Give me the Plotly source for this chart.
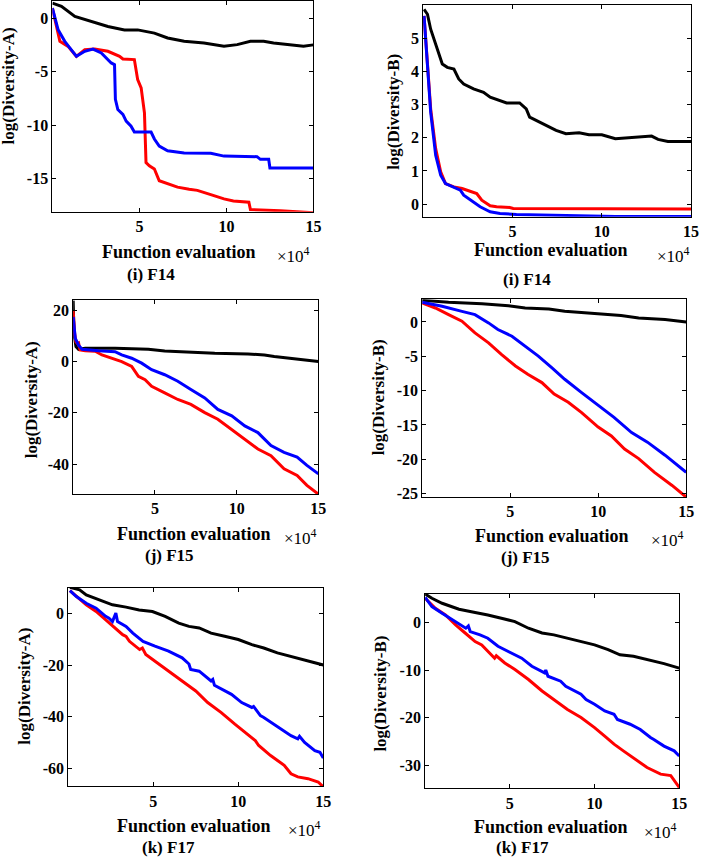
"""Diversity curves (log scale) for F14, F15 and F17, two measures each."""
import plotly.graph_objects as go

# ---- data (x in units of 1e4 function evaluations) ----
F14A_BLACK_X = [0, 0.52, 1.29, 2.24, 3.19, 4.14, 4.9, 5.86, 6.62, 7.57, 8.71, 9.86, 10.62, 11.38, 12.14, 12.71, 13.67, 14.43, 15]
F14A_BLACK_Y = [1.4, 1.1, 0.15, -0.3, -0.78, -1.1, -1.1, -1.4, -1.86, -2.17, -2.33, -2.64, -2.48, -2.17, -2.17, -2.33, -2.48, -2.64, -2.5]
F14A_RED_X = [0, 0.24, 0.43, 0.9, 1.38, 1.86, 2.43, 3.19, 3.86, 4.05, 4.71, 4.9, 5.1, 5.29, 5.38, 5.57, 5.86, 6.14, 6.62, 7.19, 7.86, 8.33, 9.1, 9.86, 10.4, 11.29, 11.38, 13.1, 15]
F14A_RED_Y = [0.93, -0.78, -2.17, -2.64, -3.57, -2.95, -2.89, -3.1, -3.57, -3.82, -3.88, -5.75, -6.52, -8.85, -13.5, -13.8, -14.1, -15.2, -15.5, -15.8, -16.0, -16.1, -16.5, -16.9, -17.1, -17.2, -17.9, -18.0, -18.2]
F14A_BLUE_X = [0, 0.33, 0.71, 1.38, 1.86, 2.33, 2.81, 3.38, 3.57, 3.62, 3.76, 4.05, 4.24, 4.52, 4.71, 5.67, 5.86, 6.14, 6.62, 7.57, 9.1, 9.86, 11.76, 11.95, 12.43, 12.5, 15]
F14A_BLUE_Y = [0.93, -1.09, -2.17, -3.57, -3.1, -2.89, -3.26, -4.19, -4.35, -7.6, -8.54, -9.0, -9.63, -10.1, -10.65, -10.65, -11.3, -11.96, -12.4, -12.6, -12.64, -12.9, -12.95, -13.2, -13.2, -14.0, -14.0]

F14B_BLACK_X = [0.05, 0.24, 0.42, 0.61, 0.89, 1.07, 1.35, 1.72, 1.99, 2.27, 2.82, 3.38, 3.75, 4.3, 4.67, 5.4, 5.77, 5.96, 6.33, 6.88, 7.44, 7.99, 8.73, 9.28, 10.0, 10.76, 11.86, 12.79, 13.15, 13.7, 15]
F14B_BLACK_Y = [5.87, 5.72, 5.27, 4.97, 4.57, 4.22, 4.12, 4.07, 3.77, 3.62, 3.47, 3.37, 3.22, 3.12, 3.05, 3.05, 2.87, 2.62, 2.52, 2.37, 2.22, 2.12, 2.15, 2.09, 2.09, 1.97, 2.02, 2.05, 1.95, 1.89, 1.89]
F14B_RED_X = [0.05, 0.24, 0.42, 0.7, 0.98, 1.25, 1.72, 2.18, 2.64, 3.0, 3.28, 3.75, 4.11, 4.85, 5.04, 15]
F14B_RED_Y = [5.67, 4.17, 2.87, 1.67, 0.97, 0.62, 0.52, 0.47, 0.39, 0.32, 0.12, -0.05, -0.08, -0.1, -0.13, -0.15]
F14B_BLUE_X = [0.05, 0.24, 0.42, 0.7, 0.98, 1.25, 1.72, 2.08, 2.27, 2.64, 3.19, 3.75, 4.3, 5.22, 7.07, 8.9, 10.76, 15]
F14B_BLUE_Y = [5.67, 4.17, 2.77, 1.47, 0.87, 0.62, 0.52, 0.42, 0.27, 0.12, -0.08, -0.23, -0.28, -0.31, -0.33, -0.35, -0.37, -0.37]

F15A_BLACK_X = [0, 0.05, 0.17, 0.33, 0.74, 2.57, 4.6, 5.6, 6.6, 7.6, 8.66, 10.7, 11.7, 12.3, 13.1, 13.7, 14.3, 15]
F15A_BLACK_Y = [23.8, 10.9, 5.8, 4.76, 5.15, 5.15, 4.76, 4.1, 3.86, 3.47, 3.2, 2.96, 2.57, 1.93, 1.29, 0.9, 0.39, 0.0]
F15A_RED_X = [0, 0.09, 0.17, 0.25, 0.33, 0.42, 0.74, 1.35, 1.76, 2.37, 2.97, 3.58, 3.99, 4.4, 4.8, 5.6, 6.4, 7.2, 8.05, 8.85, 9.7, 10.5, 11.3, 12.1, 12.9, 13.7, 14.3, 15]
F15A_RED_Y = [19.9, 10.9, 7.7, 7.1, 7.3, 4.5, 4.25, 4.0, 2.57, 1.29, 0.0, -1.93, -5.8, -7.1, -9.65, -12.2, -14.8, -16.7, -19.9, -22.5, -26.4, -30.2, -34.1, -36.7, -41.8, -44.4, -48.3, -51.7]
F15A_BLUE_X = [0, 0.13, 0.33, 0.54, 1.55, 2.56, 2.97, 3.58, 4.19, 4.8, 5.6, 6.4, 7.2, 8.05, 8.85, 9.7, 10.5, 11.3, 12.1, 12.9, 13.7, 14.3, 15]
F15A_BLUE_Y = [17.4, 9.0, 6.4, 4.8, 4.25, 3.86, 2.57, 1.29, -0.64, -3.2, -5.15, -7.7, -10.9, -14.2, -18.7, -21.2, -25.1, -27.7, -32.8, -35.4, -37.3, -40.5, -43.8]

F15B_BLACK_X = [0, 1.5, 3.4, 4.9, 5.85, 7.2, 8.1, 10.0, 11.3, 12.3, 13.8, 15]
F15B_BLACK_Y = [3.14, 2.85, 2.65, 2.36, 2.03, 1.88, 1.54, 1.2, 0.92, 0.58, 0.34, 0.0]
F15B_RED_X = [0, 0.75, 1.5, 2.26, 3.0, 3.77, 4.5, 5.3, 6.0, 6.8, 7.5, 8.3, 9.06, 10.0, 10.75, 11.5, 12.3, 13.2, 14.2, 15]
F15B_RED_Y = [2.75, 2.03, 1.06, 0.1, -1.6, -3.04, -4.73, -6.42, -7.63, -8.83, -10.5, -11.7, -13.2, -15.3, -16.6, -18.5, -19.9, -21.9, -23.8, -25.5]
F15B_BLUE_X = [0, 1.13, 2.26, 3.0, 3.77, 4.3, 5.1, 5.85, 6.6, 7.36, 8.1, 9.06, 10.0, 10.9, 11.9, 12.8, 13.8, 15]
F15B_BLUE_Y = [2.85, 2.27, 1.54, 1.06, -0.14, -1.1, -2.08, -3.52, -4.97, -6.66, -8.35, -10.3, -12.2, -13.9, -16.1, -17.5, -19.4, -21.9]

F17A_BLACK_X = [0.1, 0.67, 1.06, 1.84, 2.6, 3.4, 4.17, 4.95, 5.7, 6.5, 7.1, 7.7, 8.4, 9.2, 10.0, 10.8, 11.5, 12.3, 13.1, 13.9, 14.5, 15]
F17A_BLACK_Y = [10.3, 9.3, 7.3, 5.4, 3.5, 2.6, 1.5, 0.9, -1.0, -3.6, -4.9, -5.5, -7.5, -8.75, -10.0, -12.0, -13.3, -15.2, -16.5, -17.8, -19.0, -19.9]
F17A_RED_X = [0.1, 0.48, 1.06, 1.64, 2.2, 2.8, 3.2, 3.4, 3.6, 4.2, 4.36, 4.56, 5.1, 5.9, 6.7, 7.5, 8.2, 9.0, 9.8, 10.4, 10.5, 11.0, 11.2, 11.9, 12.7, 13.1, 13.5, 14.1, 14.7, 15]
F17A_RED_Y = [9.0, 6.7, 3.5, 0.9, -2.3, -5.5, -8.1, -8.75, -10.7, -13.9, -13.3, -15.8, -18.4, -22.3, -26.1, -30.0, -34.5, -38.4, -42.9, -46.1, -47.0, -49.3, -51.2, -55.1, -58.9, -62.2, -63.4, -64.1, -65.4, -67.3]
F17A_BLUE_X = [0.1, 0.48, 1.06, 1.64, 2.2, 2.4, 2.6, 2.8, 2.9, 3.4, 3.8, 4.4, 5.1, 5.9, 6.7, 7.05, 7.1, 7.2, 7.7, 8.4, 8.5, 8.6, 9.4, 9.6, 10.2, 10.8, 10.9, 11.3, 11.5, 12.1, 12.7, 13.1, 13.5, 13.6, 13.9, 14.5, 14.8, 15]
F17A_BLUE_Y = [9.0, 6.7, 4.1, 2.2, -1.0, -1.7, -3.0, 0.26, -3.0, -4.9, -7.5, -10.7, -12.6, -14.5, -17.1, -19.0, -19.5, -21.6, -22.3, -26.1, -25.5, -27.8, -30.6, -31.3, -34.5, -36.4, -36.0, -39.6, -40.3, -42.9, -45.4, -47.4, -48.6, -47.6, -50.0, -53.2, -53.8, -56.1]

F17B_BLACK_X = [0, 0.4, 1.0, 2.0, 2.95, 3.7, 4.5, 5.3, 6.1, 6.9, 7.6, 8.4, 9.2, 10.0, 10.8, 11.5, 12.3, 13.1, 14.1, 15]
F17B_BLACK_Y = [6.0, 5.1, 4.05, 2.8, 2.1, 1.6, 0.9, 0.2, -1.2, -2.2, -2.6, -3.3, -4.0, -4.7, -5.7, -6.8, -7.1, -7.8, -8.65, -9.6]
F17B_RED_X = [0, 0.6, 1.2, 1.8, 2.36, 2.95, 3.34, 3.73, 4.1, 4.2, 4.7, 5.3, 6.1, 6.9, 7.6, 8.4, 9.2, 10.0, 10.6, 11.15, 11.7, 12.5, 13.1, 13.9, 14.5, 15]
F17B_RED_Y = [5.1, 3.0, 1.6, -0.5, -2.2, -4.0, -4.7, -6.1, -7.5, -7.0, -8.5, -9.9, -12.0, -14.4, -16.2, -18.3, -20.0, -22.1, -23.9, -25.6, -27.0, -29.1, -30.5, -31.9, -32.2, -34.7]
F17B_BLUE_X = [0, 0.4, 1.0, 1.6, 2.2, 2.4, 2.55, 2.66, 3.24, 3.7, 4.3, 5.1, 5.7, 6.3, 7.05, 7.12, 7.25, 8.0, 8.3, 9.2, 9.5, 10.0, 10.6, 11.15, 11.35, 12.1, 12.7, 13.3, 13.5, 14.1, 14.7, 15]
F17B_BLUE_Y = [5.3, 3.35, 1.95, 0.56, -0.84, -1.2, -0.7, -1.9, -2.6, -3.3, -5.0, -6.4, -7.5, -9.2, -10.6, -10.0, -11.3, -12.35, -13.4, -15.1, -16.2, -17.2, -18.6, -19.3, -20.4, -21.4, -22.5, -24.2, -24.6, -26.0, -27.0, -28.1]

X_TICKS = [5, 10, 15]
X_TICK_TEXT = ["5", "10", "15"]
F14A_Y_TICKS = [-15, -10, -5, 0]
F14B_Y_TICKS = [0, 1, 2, 3, 4, 5]
F15A_Y_TICKS = [-40, -20, 0, 20]
F15B_Y_TICKS = [-25, -20, -15, -10, -5, 0]
F17A_Y_TICKS = [-60, -40, -20, 0]
F17B_Y_TICKS = [-30, -20, -10, 0]

W, H = 709, 861
FONT = "Liberation Serif"

# panel boxes in pixels: left, right, top, bottom
panels = [
    dict(box=(53, 317, 1, 213), yr=[-18.1, 1.6], yt=F14A_Y_TICKS, ylab="log(Diversity-A)", cap="(i) F14",
         series=[(F14A_BLACK_X, F14A_BLACK_Y, "black"), (F14A_RED_X, F14A_RED_Y, "red"), (F14A_BLUE_X, F14A_BLUE_Y, "blue")],
         ytitle=(9, 86), fe=(181, 253), x10=(297, 256), cp=(153, 276)),
    dict(box=(428, 699, 5, 218), yr=[-0.38, 6.0], yt=F14B_Y_TICKS, ylab="log(Diversity-B)", cap="(i) F14",
         series=[(F14B_BLACK_X, F14B_BLACK_Y, "black"), (F14B_RED_X, F14B_RED_Y, "red"), (F14B_BLUE_X, F14B_BLUE_Y, "blue")],
         ytitle=(398, 113), fe=(557, 251), x10=(681, 256), cp=(533, 281)),
    dict(box=(74, 322, 302, 497), yr=[-51.7, 23.9], yt=F15A_Y_TICKS, ylab="log(Diversity-A)", cap="(j) F15",
         series=[(F15A_BLACK_X, F15A_BLACK_Y, "black"), (F15A_RED_X, F15A_RED_Y, "red"), (F15A_BLUE_X, F15A_BLUE_Y, "blue")],
         ytitle=(32, 402), fe=(196, 537), x10=(304, 540), cp=(171, 559)),
    dict(box=(427, 694, 301, 500), yr=[-25.5, 3.3], yt=F15B_Y_TICKS, ylab="log(Diversity-B)", cap="(j) F15",
         series=[(F15B_BLACK_X, F15B_BLACK_Y, "black"), (F15B_RED_X, F15B_RED_Y, "red"), (F15B_BLUE_X, F15B_BLUE_Y, "blue")],
         ytitle=(383, 400), fe=(558, 539), x10=(675, 542), cp=(531, 561)),
    dict(box=(69, 327, 591, 791), yr=[-67.1, 10.2], yt=F17A_Y_TICKS, ylab="log(Diversity-A)", cap="(k) F17",
         series=[(F17A_BLACK_X, F17A_BLACK_Y, "black"), (F17A_RED_X, F17A_RED_Y, "red"), (F17A_BLUE_X, F17A_BLUE_Y, "blue")],
         ytitle=(25, 690), fe=(196, 831), x10=(308, 834), cp=(170, 852)),
    dict(box=(430, 687, 597, 793), yr=[-34.9, 6.1], yt=F17B_Y_TICKS, ylab="log(Diversity-B)", cap="(k) F17",
         series=[(F17B_BLACK_X, F17B_BLACK_Y, "black"), (F17B_RED_X, F17B_RED_Y, "red"), (F17B_BLUE_X, F17B_BLUE_Y, "blue")],
         ytitle=(385, 698), fe=(557, 832), x10=(668, 836), cp=(528, 852)),
]

colors = {"black": "#000000", "red": "#FF0000", "blue": "#0000FF"}

fig = go.Figure()
annotations = []
layout = {}


def paper(pt):
    return pt[0] / W, 1 - pt[1] / H


for i, p in enumerate(panels, start=1):
    left, right, top, bottom = p["box"]
    xa = "x" if i == 1 else f"x{i}"
    ya = "y" if i == 1 else f"y{i}"
    for xs, ys, c in p["series"]:
        fig.add_trace(go.Scatter(x=xs, y=ys, mode="lines", xaxis=xa, yaxis=ya,
                                 line=dict(color=colors[c], width=3), showlegend=False))

    axis_common = dict(showgrid=False, zeroline=False, showline=True, linecolor="black", linewidth=1,
                       mirror="ticks", ticks="inside", ticklen=4, tickcolor="black",
                       ticklabeloverflow="allow",
                       tickfont=dict(family=FONT, size=16, color="black", weight="bold"))
    layout["xaxis" if i == 1 else f"xaxis{i}"] = dict(
        axis_common, domain=[left / W, right / W], range=[0, 15], anchor=ya,
        tickvals=X_TICKS, ticktext=X_TICK_TEXT)
    layout["yaxis" if i == 1 else f"yaxis{i}"] = dict(
        axis_common, domain=[1 - bottom / H, 1 - top / H], range=p["yr"], anchor=xa,
        tickvals=p["yt"], ticktext=[str(v) for v in p["yt"]])

    tx, ty = paper(p["ytitle"])
    annotations.append(dict(x=tx, y=ty, xref="paper", yref="paper", text=p["ylab"], textangle=-90,
                            showarrow=False, xanchor="center", yanchor="middle",
                            font=dict(family=FONT, size=17, color="black", weight="bold")))
    fx, fy = paper(p["fe"])
    annotations.append(dict(x=fx, y=fy, xref="paper", yref="paper", text="Function evaluation",
                            showarrow=False, xanchor="center", yanchor="middle",
                            font=dict(family=FONT, size=18, color="black", weight="bold")))
    mx, my = paper(p["x10"])
    annotations.append(dict(x=mx, y=my, xref="paper", yref="paper", text="×10<sup>4</sup>",
                            showarrow=False, xanchor="center", yanchor="middle",
                            font=dict(family=FONT, size=17, color="black")))
    cx, cy = paper(p["cp"])
    annotations.append(dict(x=cx, y=cy, xref="paper", yref="paper", text=p["cap"],
                            showarrow=False, xanchor="center", yanchor="middle",
                            font=dict(family=FONT, size=17, color="black", weight="bold")))

fig.update_layout(
    width=W, height=H,
    margin=dict(l=0, r=0, t=0, b=0),
    plot_bgcolor="white", paper_bgcolor="white",
    showlegend=False,
    annotations=annotations,
    **layout,
)

# drop the default page margin so the figure sits at the window's top-left corner
fig.write_html("out.html", config={"displayModeBar": False},
               post_script="document.body.style.margin='0';")
